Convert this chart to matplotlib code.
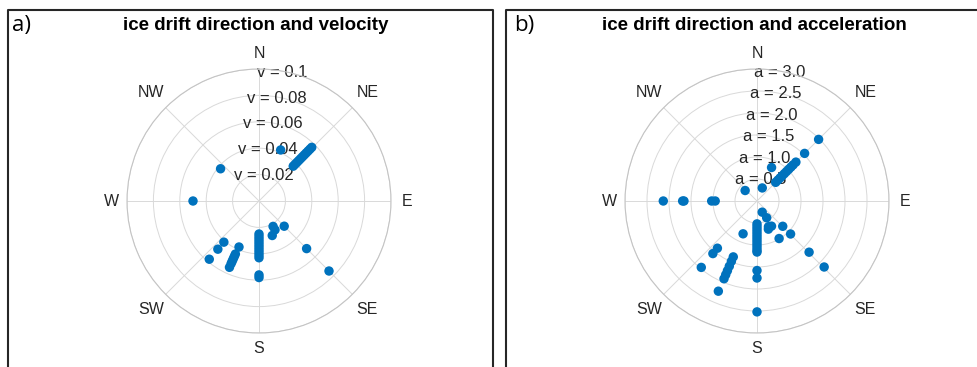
import numpy as np
import matplotlib
matplotlib.use('Agg')
import matplotlib.pyplot as plt
from matplotlib.lines import Line2D

plt.rcParams['font.family'] = ['Liberation Sans', 'DejaVu Sans']

# drift direction (deg, clockwise from N) and speed
dir_v = [44.5] * 11 + [23, 310, 270, 151, 135, 159, 151, 135, 135] + [180] * 12 + [203.5] + [204] * 6 + [220.5] * 3
vel = [0.037, 0.039, 0.041, 0.043, 0.045, 0.047, 0.049, 0.051, 0.053, 0.055, 0.057,
       0.042, 0.038, 0.050, 0.022, 0.027, 0.028, 0.025, 0.051, 0.075,
       0.025, 0.027, 0.029, 0.031, 0.033, 0.035, 0.037, 0.039, 0.041, 0.043, 0.056, 0.058,
       0.038,
       0.044, 0.046, 0.048, 0.050, 0.052, 0.055,
       0.041, 0.048, 0.058]

# drift direction (deg, clockwise from N) and acceleration
dir_a = ([45] * 12 + [23.5, 22, 311.5] + [270] * 5
         + [155, 150, 156, 150, 158, 134.5, 134.5, 149.5, 134.5, 134.5]
         + [180] * 15 + [203, 203.2] + [220] * 3 + [203] * 6)
acc = [1.98, 1.53, 0.60, 0.67, 0.74, 0.81, 0.88, 0.95, 1.02, 1.09, 1.16, 1.25,
       0.83, 0.32, 0.36,
       2.13, 1.69, 1.66, 1.03, 0.95,
       0.28, 0.44, 0.64, 0.66, 0.69, 0.82, 1.07, 0.99, 1.66, 2.14,
       0.52, 0.58, 0.64, 0.70, 0.76, 0.82, 0.88, 0.94, 1.00, 1.06, 1.12, 1.16, 1.58, 1.75, 2.52,
       0.81, 2.23,
       1.40, 1.56, 1.97,
       1.38, 1.49, 1.61, 1.72, 1.82, 1.92]

v_ticks = [0.02, 0.04, 0.06, 0.08, 0.1]
v_labels = ['v = 0.02', 'v = 0.04', 'v = 0.06', 'v = 0.08', 'v = 0.1']
a_ticks = [0.5, 1.0, 1.5, 2.0, 2.5, 3.0]
a_labels = ['a = 0.5', 'a = 1.0', 'a = 1.5', 'a = 2.0', 'a = 2.5', 'a = 3.0']
compass = ['N', 'NE', 'E', 'SE', 'S', 'SW', 'W', 'NW']

W, H = 978, 367
blue = '#0072BD'


def polar_panel(rect, theta, r, rticks, rlabels):
    ax = fig.add_axes(rect, projection='polar')
    ax.set_theta_zero_location('N')
    ax.set_theta_direction(-1)
    rmax = rticks[-1]
    ax.set_ylim(0, rmax)
    ax.set_xticks(np.deg2rad(np.arange(0, 360, 45)))
    ax.set_xticklabels([])
    ax.set_yticks(rticks)
    ax.set_yticklabels([])
    ax.tick_params(length=0)
    ax.grid(True, color='#d9d9d9', lw=0.7)
    ax.spines['polar'].set_color('#c4c4c4')
    ax.spines['polar'].set_linewidth(0.8)
    for k, lab in enumerate(compass):
        # diagonal labels sit a little further out
        fac = 1.12 if k % 2 == 0 else 1.16
        ax.text(np.deg2rad(45 * k), rmax * fac, lab, ha='center', va='center',
                fontsize=11.5, color='#262626')
    for rt, lab in zip(rticks, rlabels):
        ax.text(np.deg2rad(10), rt * 0.99, lab, ha='center', va='center',
                fontsize=12, color='#262626', zorder=2)
    ax.scatter(np.deg2rad(theta), r, s=46, color=blue, edgecolors='none',
               zorder=3, clip_on=False)
    return ax


fig = plt.figure(figsize=(W / 100, H / 100), dpi=100)

# panel frames
fig.add_artist(Line2D(np.array([8, 8, 493, 493]) / W, 1 - np.array([367, 10, 10, 367]) / H,
                      color='#262626', lw=1.5))
fig.add_artist(Line2D(np.array([506, 506, 990]) / W, 1 - np.array([367, 10, 10]) / H,
                      color='#262626', lw=1.5))

R = 132
polar_panel([(259 - R) / W, (H - 201 - R) / H, 2 * R / W, 2 * R / H], dir_v, vel, v_ticks, v_labels)
polar_panel([(757 - R) / W, (H - 201 - R) / H, 2 * R / W, 2 * R / H], dir_a, acc, a_ticks, a_labels)

fig.text(255.5 / W, 1 - 26 / H, 'ice drift direction and velocity', ha='center', va='center',
         fontsize=13.5, fontweight='bold')
fig.text(754 / W, 1 - 26 / H, 'ice drift direction and acceleration', ha='center', va='center',
         fontsize=13.5, fontweight='bold')
fig.text(12 / W, 1 - 26 / H, 'a)', ha='left', va='center', fontsize=16, family='Open Sans')
fig.text(514 / W, 1 - 26 / H, 'b)', ha='left', va='center', fontsize=16, family='Open Sans')

fig.savefig('out.png', dpi=100)
